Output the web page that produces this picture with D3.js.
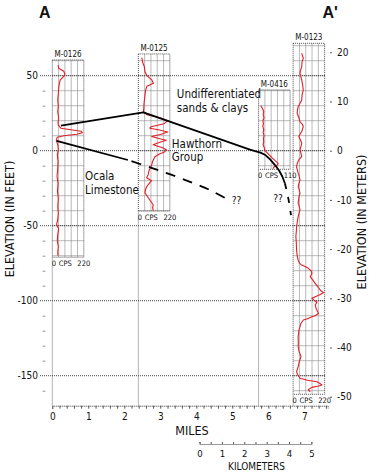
<!DOCTYPE html>
<html>
<head>
<meta charset="utf-8">
<script src="https://cdn.jsdelivr.net/npm/d3@7"></script>
<style>
  body { margin: 0; background: #fff; }
  text { font-family: 'Liberation Sans Narrow', 'Arial Narrow', 'DejaVu Sans Condensed', sans-serif; fill: #111; }
</style>
</head>
<body>
<svg id="chart"></svg>
<script>
// wells along the section (position in miles, box extent in feet, log scale max)
const wellNames = ["M-0126", "M-0125", "M-0416", "M-0123"];
const wellMiles = [0, 2.39, 5.73, 6.69];
const wellTop = [60.5, 64.5, 40.5, 71.6];
const wellBottom = [-71, -40.2, -12.4, -162.4];
const wellMaxCps = [220, 220, 110, 220];

// gamma logs: [elevation ft, cps]
const log0126 = [[57,40],[55,45],[53,80],[51,88],[49,75],[47,55],[45,50],[42,45],[38,42],[34,38],[30,42],[26,38],[22,44],[19,40],[17,42],[15,60],[14,130],[13,200],[12,210],[11,170],[10,80],[9,35],[7,28],[4,38],[1,42],[-3,35],[-7,40],[-12,38],[-17,33],[-22,40],[-27,36],[-32,42],[-37,38],[-42,42],[-47,36],[-49,30],[-52,44],[-56,38],[-60,35],[-64,42],[-68,38],[-70,40]];
const log0125 = [[62,24],[59,30],[56,42],[53,45],[50,60],[47,95],[45,105],[43,60],[40,50],[36,45],[32,40],[28,38],[26,35],[24,60],[22,150],[20,205],[18,180],[16,90],[15,80],[14,140],[12.5,205],[11,160],[9.5,93],[8,150],[7,195],[5,130],[4,104],[2,170],[0.5,197],[-1,180],[-2,150],[-4,116],[-7,100],[-10,92],[-13,75],[-16,69],[-18,58],[-20,92],[-22,75],[-24,58],[-26,50],[-28,46],[-30,60],[-33,81],[-36,104],[-38,100],[-40,104]];
const log0416 = [[30,8],[28,14],[26,18],[24,16],[22,19],[20,15],[18,17],[16,15],[14,18],[12,16],[10,19],[8,17],[6,18],[4,16],[2,20],[0,22],[-1,28],[-3,38],[-5,48],[-7,60],[-8.5,68],[-9.5,66],[-10.5,56],[-12,50]];
const log0123 = [[65,60],[63,66],[61.6,71],[59,62],[56,60],[53,50],[51.6,48],[49,55],[47,60],[44,66],[40.5,71],[37,62],[33.8,60],[31,45],[29.3,35],[27,30],[25,28],[22,40],[19.3,48],[17.5,65],[16,71],[14,64],[12.7,60],[11,48],[9.3,40],[7,52],[5,60],[3,55],[0.5,48],[-2,55],[-4,60],[-6,40],[-8,30],[-10.7,24],[-13,30],[-15,35],[-17,42],[-19.5,48],[-22,40],[-24,35],[-26,42],[-28.4,48],[-31,40],[-33,38],[-35,35],[-37,42],[-39.5,48],[-42,40],[-44,35],[-47,30],[-50.7,24],[-54,22],[-57.3,19],[-61,22],[-66,24],[-70,28],[-73,35],[-75,45],[-76,55],[-77,80],[-78.4,106],[-80,125],[-81.7,131],[-83,125],[-84,119],[-86,135],[-88.4,154],[-91,175],[-93,190],[-94.6,213],[-95.8,190],[-96.9,166],[-98.4,131],[-100,150],[-101,166],[-103,154],[-105,160],[-108.4,177],[-110,155],[-110.7,131],[-112,100],[-112.9,71],[-115,55],[-117.3,48],[-120,40],[-124,35],[-128,36],[-130.7,35],[-134,42],[-137.3,55],[-140,45],[-144,35],[-147.3,24],[-149,30],[-151.7,48],[-153,100],[-154,166],[-155,185],[-156.2,201],[-157,170],[-157.8,131],[-159,110],[-159.5,106],[-160.7,119]];
const wellLogs = [log0126, log0125, log0416, log0123];

// contacts: [miles, ft]
const hawthornTop = [[0.24,16.7],[2.53,25.6],[5.49,0.7],[5.78,-1.3],[5.92,-2.9],[6.05,-5.8],[6.18,-9.4],[6.3,-13.2],[6.39,-17.2],[6.46,-21.7]];
const hawthornTopInferred = [[6.46,-21.7],[6.55,-31],[6.63,-43]];
const ocalaTop = [[0.12,6.5],[2.1,-6.2]];
const ocalaTopInferred = [[2.1,-6.2],[2.7,-11],[3.3,-16],[3.9,-21.5],[4.4,-26.5],[4.8,-31.5]];

// unit labels: [text, miles, ft]
const unitLabels = [
  ["Undifferentiated", 3.46, 35.2], ["sands & clays", 3.46, 26],
  ["Hawthorn", 3.32, 2], ["Group", 3.32, -7],
  ["Ocala", 0.91, -19.4], ["Limestone", 0.91, -28.6]
];
const queryLabels = [["??", 5.12, -35.5], ["??", 6.27, -34]];

const feetMajor = [-150, -100, -50, 0, 50];
const feetMinor = d3.range(-160, 50, 10).filter(v => v % 50 !== 0);
const meterTicks = [-50, -40, -30, -20, -10, 0, 10, 20];
const mileTicks = d3.range(0, 39).map(i => i / 5);
const kmTicks = d3.range(0, 11).map(i => i / 2);
const kmStartMile = 4.09;

const W = 369, H = 474;
const boxW = 31.5;
const red = "#e41e26";

const svg = d3.select("#chart").attr("width", W).attr("height", H);
svg.append("rect").attr("width", W).attr("height", H).attr("fill", "#fff");

const x = d3.scaleLinear().domain([0, 7.65]).range([52.3, 327.7]);
const y = d3.scaleLinear().domain([-170, 60]).range([405.7, 60.7]);
const yM = d3.scaleLinear().domain([-170 / 3.2808, 60 / 3.2808]).range([405.7, 60.7]);
const km = d3.scaleLinear().domain([0, 5]).range([x(kmStartMile), x(kmStartMile + 5 * 0.621371)]);

// vertical lines below the wells
svg.append("g").selectAll("line").data(wellMiles).join("line")
  .attr("x1", d => x(d)).attr("x2", d => x(d))
  .attr("y1", (d, i) => y(wellBottom[i])).attr("y2", y(-170))
  .attr("stroke", "#b4b4b4").attr("stroke-width", 1);

// log boxes with inner grid
wellNames.forEach((name, i) => {
  const x0 = x(wellMiles[i]);
  const g = svg.append("g");
  const cx = d3.scaleLinear().domain([0, wellMaxCps[i]]).range([x0, x0 + boxW]);
  const yTop = y(wellTop[i]), yBot = y(wellBottom[i]);

  g.selectAll(".vg").data(d3.range(1, 5)).join("line")
    .attr("x1", k => cx(wellMaxCps[i] * k / 5)).attr("x2", k => cx(wellMaxCps[i] * k / 5))
    .attr("y1", yTop).attr("y2", yBot)
    .attr("stroke", "#8c8c8c").attr("stroke-width", 0.6);
  const hLines = d3.range(Math.ceil(wellBottom[i] / 10) * 10, wellTop[i], 10);
  g.selectAll(".hg").data(hLines).join("line")
    .attr("x1", x0).attr("x2", x0 + boxW)
    .attr("y1", d => y(d)).attr("y2", d => y(d))
    .attr("stroke", "#8c8c8c").attr("stroke-width", 0.6);
  g.append("rect")
    .attr("x", x0).attr("y", yTop).attr("width", boxW).attr("height", yBot - yTop)
    .attr("fill", "none").attr("stroke", "#222").attr("stroke-width", 0.8)
    .attr("stroke-dasharray", "1,1");

  g.append("text").attr("x", x0 + boxW / 2).attr("y", yTop - 3)
    .attr("text-anchor", "middle").attr("font-size", "8px").text(name);
  const labY = yBot + 8.5;
  g.append("text").attr("x", x0 + 1.5).attr("y", labY).attr("text-anchor", "middle")
    .attr("font-size", "7.5px").text("0");
  g.append("text").attr("x", x0 + 13).attr("y", labY).attr("text-anchor", "middle")
    .attr("font-size", "7.5px").text("CPS");
  g.append("text").attr("x", x0 + boxW).attr("y", labY).attr("text-anchor", "middle")
    .attr("font-size", "7.5px").text(wellMaxCps[i]);
});

// major horizontal dotted grid
svg.append("g").selectAll("line").data(feetMajor).join("line")
  .attr("x1", 40).attr("x2", 325)
  .attr("y1", d => y(d)).attr("y2", d => y(d))
  .attr("stroke", "#333").attr("stroke-width", 0.9).attr("stroke-dasharray", "1,1");

// gamma logs
wellLogs.forEach((lg, i) => {
  const x0 = x(wellMiles[i]);
  const cx = d3.scaleLinear().domain([0, wellMaxCps[i]]).range([x0, x0 + boxW]);
  svg.append("path").datum(lg)
    .attr("fill", "none").attr("stroke", red).attr("stroke-width", 1.1)
    .attr("stroke-linejoin", "round")
    .attr("d", d3.line().x(d => cx(d[1])).y(d => y(d[0])));
});

// contacts
const contact = d3.line().x(d => x(d[0])).y(d => y(d[1]));
const contactCurve = d3.line().x(d => x(d[0])).y(d => y(d[1])).curve(d3.curveCatmullRom);
svg.append("path").datum(hawthornTop).attr("d", contact)
  .attr("fill", "none").attr("stroke", "#000").attr("stroke-width", 1.8)
  .attr("stroke-linejoin", "round");
svg.append("path").datum(hawthornTopInferred).attr("d", contactCurve)
  .attr("fill", "none").attr("stroke", "#000").attr("stroke-width", 1.8)
  .attr("stroke-dasharray", "6,8");
svg.append("path").datum(ocalaTop).attr("d", contact)
  .attr("fill", "none").attr("stroke", "#000").attr("stroke-width", 1.8);
svg.append("path").datum(ocalaTopInferred).attr("d", contactCurve)
  .attr("fill", "none").attr("stroke", "#000").attr("stroke-width", 1.8)
  .attr("stroke-dasharray", "10,8").attr("stroke-dashoffset", -4);

svg.append("g").selectAll("text").data(unitLabels).join("text")
  .attr("x", d => x(d[1])).attr("y", d => y(d[2]))
  .attr("font-size", "11.5px").text(d => d[0]);
svg.append("g").selectAll("text").data(queryLabels).join("text")
  .attr("x", d => x(d[1])).attr("y", d => y(d[2]))
  .attr("text-anchor", "middle").attr("font-size", "10px").text(d => d[0]);

// left axis (feet)
const leftAxis = svg.append("g").attr("transform", "translate(40,0)")
  .call(d3.axisLeft(y).tickValues(feetMajor).tickSize(0).tickPadding(2).tickFormat(d => String(d)));
leftAxis.select(".domain").remove();
leftAxis.selectAll("text").attr("font-size", "10px").attr("font-family", null);
const leftMinor = svg.append("g").attr("transform", "translate(45.5,0)")
  .call(d3.axisLeft(y).tickValues(feetMinor).tickSize(3).tickFormat(""));
leftMinor.select(".domain").remove();
leftMinor.selectAll("line").attr("stroke", "#999");

// right axis (meters)
const rightAxis = svg.append("g").attr("transform", "translate(330,0)")
  .call(d3.axisRight(yM).tickValues(meterTicks).tickSize(2).tickPadding(5).tickFormat(d => String(d)));
rightAxis.select(".domain").remove();
rightAxis.selectAll("line").attr("stroke", "#555");
rightAxis.selectAll("text").attr("font-size", "10px").attr("font-family", null);

// miles axis
const milesAxis = svg.append("g").attr("transform", `translate(0,${y(-170)})`)
  .call(d3.axisBottom(x).tickValues(mileTicks).tickSize(3).tickPadding(4)
    .tickFormat(d => Math.abs(d - Math.round(d)) < 1e-9 ? Math.round(d) : ""));
milesAxis.select(".domain").attr("stroke", "#333").attr("stroke-dasharray", "1,1");
milesAxis.selectAll("line").attr("stroke", "#555");
milesAxis.selectAll("text").attr("font-size", "10px").attr("font-family", null);

// kilometers axis
const kmAxis = svg.append("g").attr("transform", "translate(0,444)")
  .call(d3.axisBottom(km).tickValues(kmTicks).tickSize(-2).tickPadding(6)
    .tickFormat(d => Number.isInteger(d) ? d : ""));
kmAxis.select(".domain").attr("stroke", "#333").attr("stroke-dasharray", "1,1");
kmAxis.selectAll("line").attr("stroke", "#555");
kmAxis.selectAll("text").attr("font-size", "9.5px").attr("font-family", null);

// titles
svg.append("text").attr("x", 39).attr("y", 18).attr("font-size", "16px")
  .attr("font-weight", "bold").style("font-family", "'Liberation Sans', Arial, sans-serif").text("A");
svg.append("text").attr("x", 322.5).attr("y", 18).attr("font-size", "16px")
  .attr("font-weight", "bold").style("font-family", "'Liberation Sans', Arial, sans-serif").text("A'");

svg.append("text").attr("transform", "translate(13.5,219) rotate(-90)")
  .attr("text-anchor", "middle").attr("font-size", "12.5px").text("ELEVATION (IN FEET)");
svg.append("text").attr("transform", "translate(366,222) rotate(-90)")
  .attr("text-anchor", "middle").attr("font-size", "12.5px").text("ELEVATION (IN METERS)");
svg.append("text").attr("x", 192).attr("y", 434.5).attr("text-anchor", "middle")
  .attr("font-size", "12.5px").text("MILES");
svg.append("text").attr("x", 256.5).attr("y", 469.5).attr("text-anchor", "middle")
  .attr("font-size", "10px").text("KILOMETERS");
</script>
</body>
</html>
